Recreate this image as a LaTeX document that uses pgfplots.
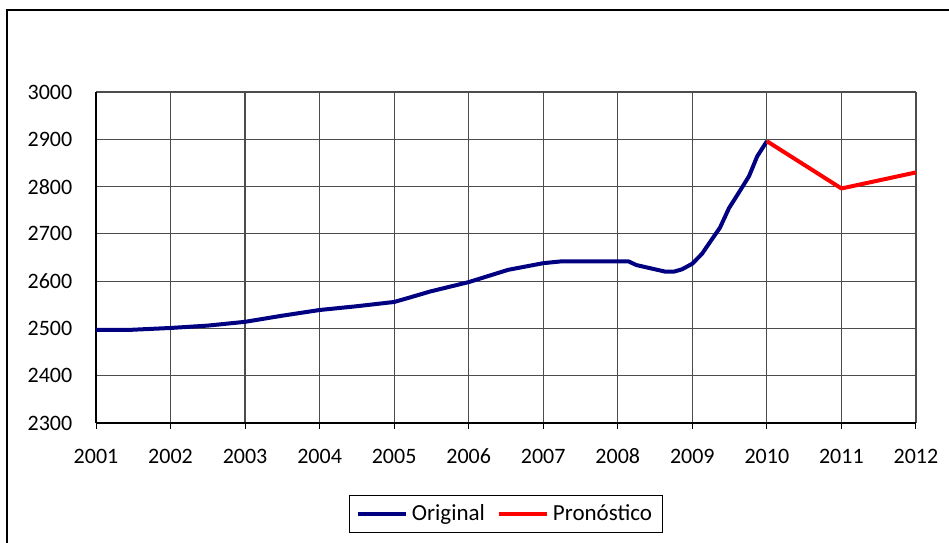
\documentclass[border=0pt]{standalone}
\usepackage{pgfplots}
\pgfplotsset{compat=1.18}
\usepackage{fontspec}
\setmainfont{Carlito}
\definecolor{navyline}{RGB}{0,0,128}
\begin{document}
\fontsize{11pt}{13pt}\selectfont
\begin{tikzpicture}
% picture frame: 949 x 542 px at 0.5pt per px
\useasboundingbox (0,0) rectangle (474.5pt,-271pt);
\draw[line width=1pt, black] (3.5pt,-280pt) -- (3.5pt,-5pt) -- (480pt,-5pt);
    \begin{axis}[
        at={(48pt,-211.5pt)}, anchor=south west,
        scale only axis,
        width=410pt, height=165.5pt,
        xmin=2001, xmax=2012,
        ymin=2300, ymax=3000,
        xtick={2001,...,2012},
        ytick={2300,2400,...,3000},
        /pgf/number format/1000 sep={},
        /pgf/number format/assume math mode=true,
        ticklabel style={font=\fontsize{11pt}{13pt}\selectfont},
        xticklabel style={yshift=-6pt},
        yticklabel style={xshift=-5pt},
        tick align=outside,
        x tick style={black, line width=0.5pt},
        major tick length=3pt,
        y tick style={draw=none},
        xmajorgrids=true, ymajorgrids=true,
        grid style={black!70, line width=0.6pt},
        axis line style={black, line width=0.6pt},
        axis x line*=bottom, axis y line*=left,
        legend columns=2,
        legend style={at={(0.5,-0.275)}, anchor=center, draw=black, line width=0.5pt,
            font=\fontsize{11.5pt}{13pt}\selectfont, inner xsep=3pt, inner ysep=2.5pt,
            /tikz/every even column/.append style={column sep=4pt}},
        legend image code/.code={\draw[#1, line width=2pt] (0pt,0pt) -- (24pt,0pt);},
    ]
        \addplot[navyline, line width=2pt, mark=none, line join=round]
            coordinates {(2001,2497) (2001.46,2497) (2002,2501) (2002.5,2506) (2003,2514)
            (2003.5,2527) (2004,2539) (2004.5,2547) (2005,2556) (2005.2,2565)
            (2005.48,2578) (2006,2598) (2006.53,2624) (2007,2638) (2007.25,2642)
            (2008.14,2642) (2008.25,2634) (2008.64,2620) (2008.75,2620) (2008.86,2625)
            (2009,2637) (2009.13,2658) (2009.26,2688) (2009.37,2713) (2009.49,2754)
            (2009.65,2794) (2009.76,2822) (2009.87,2864) (2010,2896)};
        \addplot[red, line width=2pt, mark=none, line join=round]
            coordinates {(2010,2896) (2011,2796) (2012,2830)};
        \legend{Original, Pronóstico}
    \end{axis}
\end{tikzpicture}
\end{document}
